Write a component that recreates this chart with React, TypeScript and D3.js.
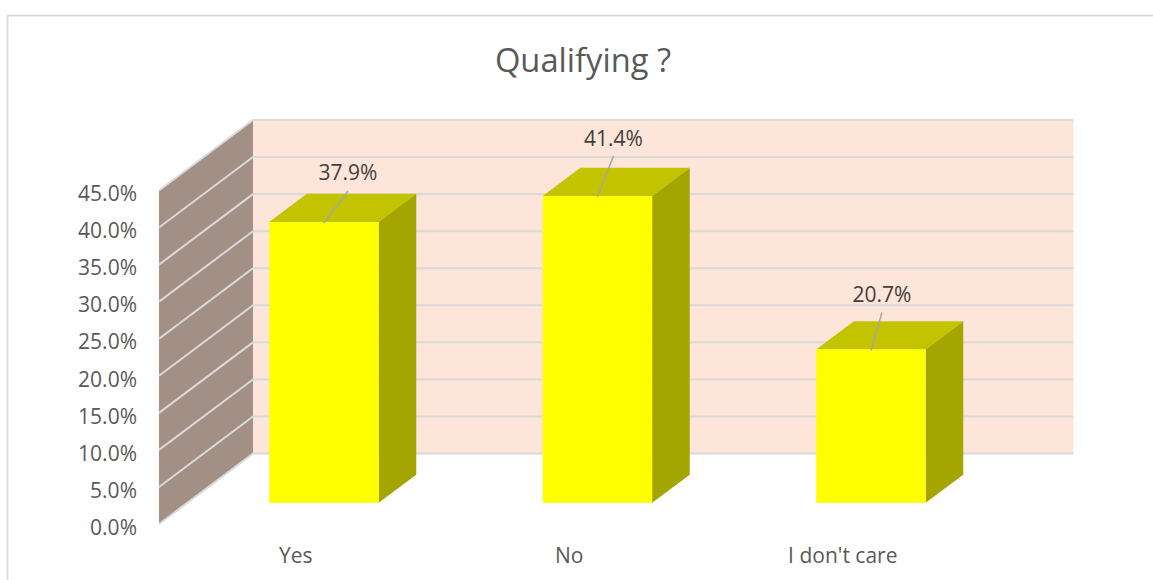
import React, { useEffect, useRef } from 'react'
import * as d3 from 'd3'

const categories = ['Yes', 'No', "I don't care"]
const values = [37.9, 41.4, 20.7]
const yTicks = [0, 5, 10, 15, 20, 25, 30, 35, 40, 45]

const W = 1153
const H = 580
const FONT = '"Open Sans", sans-serif'

// oblique depth of the 3D box: back wall sits this far from the front plane
const depthX = 94
const depthY = 70.5
// bars stand between these fractions of the depth
const barNear = 0.3
const barFar = 0.7

// where each data label was dragged to, relative to its bar's top centre
const labelShift = [
  [24, -31],
  [16, -40],
  [11, -37],
]

export default function App() {
  const ref = useRef<SVGSVGElement>(null)

  useEffect(() => {
    const svg = d3.select(ref.current)
    svg.selectAll('*').remove()

    const y = d3.scaleLinear().domain([0, 45]).range([524, 190.5])
    const x = d3.scaleBand<string>()
      .domain(categories)
      .range([159, 979.5])
      .paddingInner(0.6)
      .paddingOuter(0.3)

    // frame
    svg.append('path')
      .attr('d', `M7.5,${H}V15.5H${W}`)
      .attr('fill', 'none')
      .attr('stroke', '#d9d9d9')
      .attr('stroke-width', 1.75)

    svg.append('text')
      .attr('x', 583)
      .attr('y', 72)
      .attr('text-anchor', 'middle')
      .attr('font-family', FONT)
      .attr('font-size', 32.7)
      .attr('fill', '#595959')
      .text('Qualifying ?')

    const x0 = x.range()[0]
    const x1 = x.range()[1]
    const top = y(45)
    const bottom = y(0)

    // back wall
    svg.append('rect')
      .attr('x', x0 + depthX)
      .attr('y', top - depthY)
      .attr('width', x1 - x0)
      .attr('height', bottom - top)
      .attr('fill', '#fee5d9')

    // side wall
    svg.append('path')
      .attr('d', d3.line()([
        [x0, bottom],
        [x0 + depthX, bottom - depthY],
        [x0 + depthX, top - depthY],
        [x0, top],
      ]) + 'Z')
      .attr('fill', '#a28f85')

    // gridlines run along the side wall then across the back wall
    svg.append('g')
      .selectAll('path')
      .data(yTicks)
      .enter()
      .append('path')
      .attr('d', d => d3.line()([
        [x0, y(d)],
        [x0 + depthX, y(d) - depthY],
        [x1 + depthX, y(d) - depthY],
      ]))
      .attr('fill', 'none')
      .attr('stroke', '#d9d9d9')
      .attr('stroke-width', 2)

    // bars
    const nearX = depthX * barNear
    const nearY = depthY * barNear
    const dx = depthX * (barFar - barNear)
    const dy = depthY * (barFar - barNear)

    const bars = svg.append('g')
      .selectAll('g')
      .data(categories)
      .enter()
      .append('g')

    bars.each(function (c, i) {
      const g = d3.select(this)
      const left = x(c)! + nearX
      const right = left + x.bandwidth()
      const base = bottom - nearY
      const yTop = y(values[i]) - nearY

      g.append('path')
        .attr('d', d3.line()([[left, yTop], [left + dx, yTop - dy], [right + dx, yTop - dy], [right, yTop]]) + 'Z')
        .attr('fill', '#c3c300')
      g.append('path')
        .attr('d', d3.line()([[right, yTop], [right + dx, yTop - dy], [right + dx, base - dy], [right, base]]) + 'Z')
        .attr('fill', '#a5a500')
      g.append('rect')
        .attr('x', left)
        .attr('y', yTop)
        .attr('width', x.bandwidth())
        .attr('height', base - yTop)
        .attr('fill', '#ffff00')

      const cx = (left + right) / 2
      const [sx, sy] = labelShift[i]
      g.append('line')
        .attr('x1', cx)
        .attr('y1', yTop + 1)
        .attr('x2', cx + sx)
        .attr('y2', yTop + sy)
        .attr('stroke', '#a6a6a6')
        .attr('stroke-width', 1.5)
      g.append('text')
        .attr('x', cx + sx)
        .attr('y', yTop + sy - 10.5)
        .attr('text-anchor', 'middle')
        .attr('font-family', FONT)
        .attr('font-size', 21)
        .attr('fill', '#404040')
        .text(d3.format('.1f')(values[i]) + '%')
    })

    // axes
    const yAxis = svg.append('g')
      .attr('transform', `translate(${x0},3.5)`)
      .call(d3.axisLeft(y).tickValues(yTicks).tickSize(0).tickPadding(22).tickFormat(d => d3.format('.1f')(d as number) + '%'))
    yAxis.select('.domain').remove()

    const xAxis = svg.append('g')
      .attr('transform', `translate(0,${bottom + 24})`)
      .call(d3.axisBottom(x).tickSize(0).tickPadding(0))
    xAxis.select('.domain').remove()

    svg.selectAll('g.tick text')
      .attr('font-family', FONT)
      .attr('font-size', 21)
      .attr('fill', '#595959')
  }, [])

  return <svg ref={ref} width={W} height={H} style={{ position: 'absolute', left: 0, top: 0, background: '#fff' }} />
}
